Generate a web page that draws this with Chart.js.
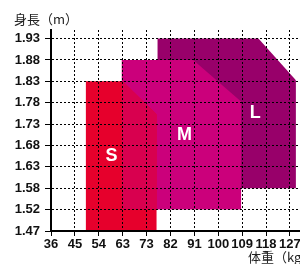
<!DOCTYPE html>
<html>
<head>
<meta charset="utf-8">
<script src="https://cdn.jsdelivr.net/npm/chart.js@4"></script>
<style>
    html, body { margin: 0; padding: 0; background: #fff; }
    #wrap { width: 300px; height: 264px; }
</style>
</head>
<body>
<div id="wrap"><canvas id="sizeChart" width="300" height="264"></canvas></div>
<script>
// The grid is evenly spaced in lb / inches, the labels show kg / m
const weightTicksLb = [80, 100, 120, 140, 160, 180, 200, 220, 240, 260, 280];
const weightLabels = ['36', '45', '54', '63', '73', '82', '91', '100', '109', '118', '127'];
const heightTicksIn = [58, 60, 62, 64, 66, 68, 70, 72, 74, 76];
const heightLabels = ['1.47', '1.52', '1.58', '1.63', '1.68', '1.73', '1.78', '1.83', '1.88', '1.93'];

// size blocks: S, M, L (top right corner is cut off diagonally)
const sizeNames = ['S', 'M', 'L'];
const fromLb = [109, 139, 169];
const toLb = [168.5, 239.3, 285];
const cutStartLb = [140, 199, 253.6];
const topIn = [72, 74, 76];
const cutEndIn = [68.9, 70.1, 72.1];
const bottomIn = [58, 60, 62];

const sizeColors = ['#E6002C', '#CB007B', '#98006A'];
const overlapColor = '#D8004F';
const tickFont = { family: '"Liberation Sans", Arial, sans-serif', size: 13, weight: 'bold' };

function outline(i) {
    return [
        { x: fromLb[i], y: topIn[i] },
        { x: cutStartLb[i], y: topIn[i] },
        { x: toLb[i], y: cutEndIn[i] }
    ];
}

// part of S that sits over M gets a darker red
const overlap = [{ x: fromLb[1], y: topIn[0] }].concat(outline(0).filter(p => p.x > fromLb[1]));

// S on top, then M, L at the back
const datasets = sizeNames.map((name, i) => ({
    label: name,
    data: outline(i),
    backgroundColor: sizeColors[i],
    borderColor: 'rgba(0,0,0,0)',
    borderWidth: 0,
    pointRadius: 0,
    tension: 0,
    fill: { value: bottomIn[i] },
    order: i + 1
}));
datasets.push({
    label: 'S/M',
    data: overlap,
    backgroundColor: overlapColor,
    borderColor: 'rgba(0,0,0,0)',
    borderWidth: 0,
    pointRadius: 0,
    tension: 0,
    fill: { value: bottomIn[1] },
    order: 0
});

const textPlugin = {
    id: 'textPlugin',
    afterDraw(chart) {
        const { ctx, scales } = chart;
        ctx.save();
        ctx.fillStyle = '#fff';
        ctx.font = 'bold 18px "Liberation Sans", Arial, sans-serif';
        ctx.textAlign = 'center';
        ctx.textBaseline = 'middle';
        const anchors = [[130.6, 65], [191.7, 67], [251, 69]];
        sizeNames.forEach((name, i) => {
            ctx.fillText(name, scales.x.getPixelForValue(anchors[i][0]), scales.y.getPixelForValue(anchors[i][1]));
        });

        ctx.fillStyle = '#222';
        ctx.font = '13px "Noto Sans CJK JP", sans-serif';
        ctx.textAlign = 'left';
        ctx.fillText('身長（m）', 14, 19);
        ctx.fillText('体重（kg）', 248, 257);
        ctx.restore();
    }
};

new Chart(document.getElementById('sizeChart'), {
    type: 'line',
    data: { datasets: datasets },
    options: {
        responsive: false,
        animation: false,
        devicePixelRatio: 1,
        layout: { padding: { top: 30, left: 0, right: 0, bottom: 0 } },
        plugins: {
            legend: { display: false },
            tooltip: { enabled: false }
        },
        scales: {
            x: {
                type: 'linear',
                min: 80,
                max: 288.4,
                afterBuildTicks: s => { s.ticks = weightTicksLb.map(v => ({ value: v })); },
                afterFit: s => { s.height = 33; s.paddingLeft = 0; s.paddingRight = 0; },
                grid: { color: '#000', lineWidth: 1, tickLength: 5, z: 1 },
                border: { color: '#000', width: 2, dash: [2, 2], z: 2 },
                ticks: {
                    autoSkip: false,
                    maxRotation: 0,
                    padding: 1,
                    color: '#111',
                    font: tickFont,
                    callback: v => weightLabels[weightTicksLb.indexOf(v)]
                }
            },
            y: {
                type: 'linear',
                min: 58,
                max: 76.8,
                afterBuildTicks: s => { s.ticks = heightTicksIn.map(v => ({ value: v })); },
                afterFit: s => { s.width = 51; s.paddingTop = 0; s.paddingBottom = 0; },
                grid: { color: '#000', lineWidth: 1, tickLength: 6, z: 1 },
                border: { color: '#000', width: 2, dash: [2, 2], z: 2 },
                ticks: {
                    padding: 5,
                    color: '#111',
                    font: tickFont,
                    callback: v => heightLabels[heightTicksIn.indexOf(v)]
                }
            }
        }
    },
    plugins: [textPlugin]
});
</script>
</body>
</html>
